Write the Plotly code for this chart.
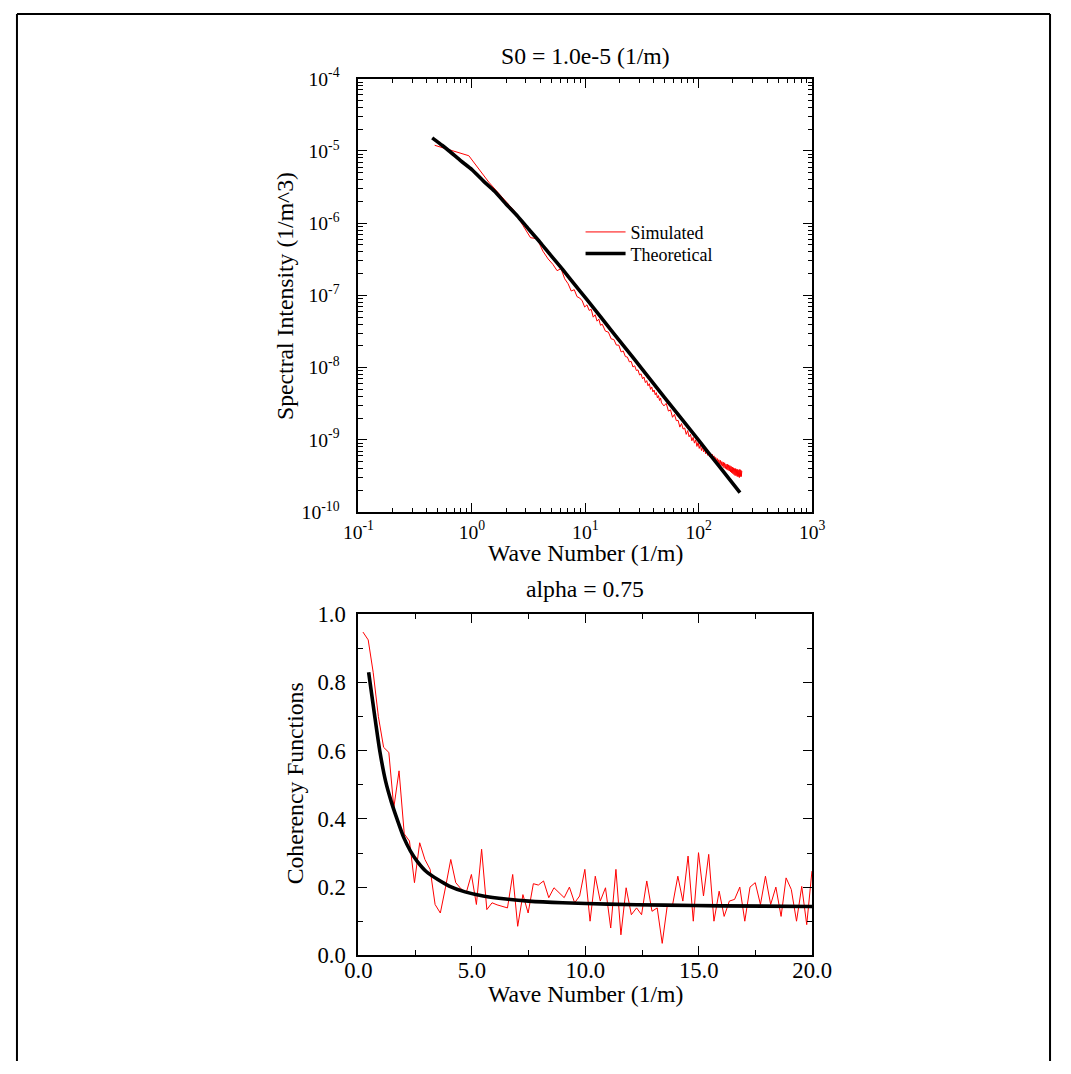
import plotly.graph_objects as go

# ---------------- Spectral intensity (top panel) ----------------
theo_k = [0.447, 0.55, 0.631, 0.8, 1.0, 1.26, 1.585, 2.0, 2.51, 3.16, 3.98, 5.01, 6.31, 7.94,
          10.3, 17.7, 26.5, 50, 100, 150, 231]
theo_s = [1.52e-5, 1.19e-5, 1.0e-5, 7.3e-6, 5.52e-6, 3.86e-6, 2.77e-6, 1.85e-6, 1.27e-6,
          8.3e-7, 5.48e-7, 3.53e-7, 2.29e-7, 1.46e-7, 8.8e-8, 3.01e-8, 1.36e-8, 3.85e-9,
          9.8e-10, 4.38e-10, 1.86e-10]

sim_k = [
    0.47, 0.94, 1.41, 1.88, 2.35, 2.82, 3.29, 3.76, 4.23, 4.70,
    5.17, 5.64, 6.11, 6.58, 7.05, 7.52, 7.99, 8.46, 8.93, 9.40,
    9.87, 10.34, 10.81, 11.28, 11.75, 12.22, 12.69, 13.16, 13.63, 14.10,
    15.04, 15.98, 16.92, 17.86, 18.80, 19.74, 20.68, 21.62, 22.56, 23.50,
    24.44, 25.38, 26.32, 27.26, 28.20, 29.14, 30.08, 31.02, 31.96, 32.90,
    33.84, 34.78, 35.72, 36.66, 37.60, 38.54, 39.48, 40.42, 41.36, 42.30,
    43.24, 44.18, 45.12, 46.06, 47.00,
    49.35, 51.70, 54.05, 56.40, 58.75, 61.10, 63.45, 65.80, 68.15, 70.50,
    72.85, 75.20, 77.55, 79.90, 82.25, 84.60, 86.95, 89.30, 91.65, 94.00,
    96.35, 98.70, 101.05, 103.40, 105.75, 108.10, 110.45, 112.80, 115.15, 117.50,
    119.85, 122.20, 124.55, 126.90, 129.25, 131.60, 133.95, 136.30, 138.65, 141.00,
    143.35, 145.70, 148.05, 150.40, 152.75, 155.10, 157.45, 159.80, 162.15, 164.50,
    166.85, 169.20, 171.55, 173.90, 176.25, 178.60, 180.95, 183.30, 185.65, 188.00,
    190.35, 192.70, 195.05, 197.40, 199.75, 202.10, 204.45, 206.80, 209.15, 211.50,
    213.85, 216.20, 218.55, 220.90, 223.25, 225.60, 227.95, 230.30, 232.65, 235.00,
    237.35, 239.70,
]
sim_s = [
    1.2e-5, 8.6e-6, 3.7e-6, 2.2e-6, 1.5e-6, 9.3e-7, 6.3e-7, 6.1e-7, 4.1e-7, 3.2e-7,
    2.7e-7, 2.2e-7, 2.35e-7, 1.7e-7, 1.45e-7, 1.15e-7, 1.2e-7, 9.6e-8, 9.2e-8, 8.4e-8,
    6.9e-8, 7.4e-8, 6.2e-8, 6.4e-8, 5.0e-8, 5.4e-8, 4.4e-8, 4.7e-8, 3.85e-8, 4.0e-8,
    3.2e-8, 3.1e-8, 2.5e-8, 2.45e-8, 2.05e-8, 2.05e-8, 1.65e-8, 1.7e-8, 1.42e-8, 1.4e-8,
    1.2e-8, 1.22e-8, 1.02e-8, 1.06e-8, 9.1e-9, 9.3e-9, 7.9e-9, 8.2e-9, 7.0e-9, 7.4e-9,
    6.2e-9, 6.6e-9, 5.6e-9, 6.0e-9, 5.0e-9, 5.4e-9, 4.6e-9, 4.9e-9, 4.2e-9, 4.5e-9,
    3.8e-9, 4.1e-9, 3.5e-9, 3.8e-9, 3.25e-9,
    2.95e-9, 3.2e-9, 2.5e-9, 2.6e-9, 2.05e-9, 2.25e-9, 1.84e-9, 1.86e-9, 1.5e-9, 1.68e-9,
    1.41e-9, 1.46e-9, 1.19e-9, 1.34e-9, 1.1e-9, 1.19e-9, 9.7e-10, 1.08e-9, 9.0e-10, 1.0e-9,
    8.1e-10, 9.2e-10, 7.6e-10, 8.5e-10, 7.1e-10, 8.0e-10, 6.8e-10, 7.5e-10, 6.4e-10, 7.1e-10,
    6.1e-10, 6.8e-10, 5.8e-10, 6.5e-10, 5.6e-10, 6.3e-10, 5.4e-10, 6.0e-10, 5.1e-10, 5.7e-10,
    5.0e-10, 5.5e-10, 4.8e-10, 5.3e-10, 4.6e-10, 5.2e-10, 4.4e-10, 5.0e-10, 4.3e-10, 4.9e-10,
    4.1e-10, 4.8e-10, 4.0e-10, 4.6e-10, 3.9e-10, 4.6e-10, 3.8e-10, 4.5e-10, 3.7e-10, 4.4e-10,
    3.6e-10, 4.3e-10, 3.5e-10, 4.2e-10, 3.4e-10, 4.1e-10, 3.3e-10, 4.0e-10, 3.2e-10, 4.0e-10,
    3.2e-10, 3.9e-10, 3.1e-10, 3.9e-10, 3.1e-10, 3.8e-10, 3.0e-10, 3.9e-10, 3.1e-10, 3.8e-10,
    3.1e-10, 3.7e-10,
]

log_x_ticks = [0.1, 1, 10, 100, 1000]
log_x_text = ["10<sup>-1</sup>", "10<sup>0</sup>", "10<sup>1</sup>", "10<sup>2</sup>", "10<sup>3</sup>"]
log_y_ticks = [1e-10, 1e-9, 1e-8, 1e-7, 1e-6, 1e-5, 1e-4]
log_y_text = ["10<sup>-10</sup>", "10<sup>-9</sup>", "10<sup>-8</sup>", "10<sup>-7</sup>",
              "10<sup>-6</sup>", "10<sup>-5</sup>", "10<sup>-4</sup>"]

# ---------------- Coherency (bottom panel) ----------------
coh_theo_k = [0.45, 0.7, 0.94, 1.2, 1.45, 1.7, 2.0, 2.3, 2.6, 3.0, 3.5, 4.0, 4.7,
              5.5, 6.5, 7.5, 9.0, 11, 13.5, 16, 20]
coh_theo_c = [0.83, 0.71, 0.60, 0.51, 0.45, 0.40, 0.345, 0.305, 0.275, 0.245, 0.222,
              0.203, 0.186, 0.174, 0.165, 0.159, 0.154, 0.150, 0.147, 0.145, 0.143]

coh_sim_k = [
    0.20, 0.43, 0.65, 0.88, 1.11, 1.34, 1.56, 1.79, 2.02, 2.25,
    2.47, 2.70, 2.93, 3.16, 3.38, 3.61, 3.84, 4.07, 4.29, 4.52,
    4.75, 4.98, 5.20, 5.43, 5.66, 5.89, 6.11, 6.34, 6.57, 6.80,
    7.02, 7.25, 7.48, 7.71, 7.93, 8.16, 8.39, 8.62, 8.84, 9.07,
    9.30, 9.53, 9.75, 9.98, 10.21, 10.44, 10.66, 10.89, 11.12, 11.35,
    11.57, 11.80, 12.03, 12.26, 12.48, 12.71, 12.94, 13.17, 13.39, 13.62,
    13.85, 14.08, 14.30, 14.53, 14.76, 14.99, 15.21, 15.44, 15.67, 15.90,
    16.12, 16.35, 16.58, 16.81, 17.03, 17.26, 17.49, 17.72, 17.94, 18.17,
    18.40, 18.63, 18.85, 19.08, 19.31, 19.54, 19.76, 19.99,
]
coh_sim_c = [
    0.948, 0.925, 0.83, 0.70, 0.61, 0.595, 0.433, 0.541, 0.356, 0.335,
    0.213, 0.33, 0.281, 0.252, 0.149, 0.124, 0.20, 0.281, 0.213, 0.195,
    0.183, 0.237, 0.149, 0.311, 0.134, 0.154, 0.148, 0.143, 0.139, 0.237,
    0.085, 0.178, 0.124, 0.21, 0.206, 0.218, 0.169, 0.198, 0.185, 0.169,
    0.20, 0.154, 0.174, 0.252, 0.10, 0.232, 0.159, 0.198, 0.08, 0.252,
    0.06, 0.198, 0.119, 0.139, 0.119, 0.218, 0.129, 0.139, 0.035, 0.149,
    0.149, 0.232, 0.159, 0.291, 0.10, 0.301, 0.174, 0.296, 0.10, 0.188,
    0.114, 0.159, 0.164, 0.20, 0.10, 0.20, 0.213, 0.149, 0.232, 0.149,
    0.20, 0.114, 0.227, 0.193, 0.10, 0.202, 0.09, 0.247,
]

lin_x_ticks = [0, 5, 10, 15, 20]
lin_x_text = ["0.0", "5.0", "10.0", "15.0", "20.0"]
lin_y_ticks = [0, 0.2, 0.4, 0.6, 0.8, 1.0]
lin_y_text = ["0.0", "0.2", "0.4", "0.6", "0.8", "1.0"]

W, H = 1071, 1074
# The page is shown with its body margin and fitted to the window, so a figure
# pixel lands at  screen = scale * px + offset  on each axis.
SX, OX = 0.968, 15.0
SY, OY = 0.973, 14.4
SERIF = "Liberation Serif"
RED = "#ff0000"


def rx(x):
    """Screen x (px) -> paper fraction."""
    return ((x - OX) / SX) / W


def ry(y):
    """Screen y (px, from top) -> paper fraction."""
    return 1 - ((y - OY) / SY) / H


def fs(size):
    return round(size / ((SX + SY) / 2), 1)


fig = go.Figure()

fig.add_trace(go.Scatter(x=sim_k, y=sim_s, mode="lines", name="Simulated", legend="legend",
                         line=dict(color=RED, width=1), xaxis="x", yaxis="y"))
fig.add_trace(go.Scatter(x=theo_k, y=theo_s, mode="lines", name="Theoretical", legend="legend2",
                         line=dict(color="black", width=3.6, shape="spline", smoothing=0.6),
                         xaxis="x", yaxis="y"))
fig.add_trace(go.Scatter(x=coh_sim_k, y=coh_sim_c, mode="lines", showlegend=False,
                         line=dict(color=RED, width=1), xaxis="x2", yaxis="y2"))
fig.add_trace(go.Scatter(x=coh_theo_k, y=coh_theo_c, mode="lines", showlegend=False,
                         line=dict(color="black", width=3.6, shape="spline", smoothing=0.6),
                         xaxis="x2", yaxis="y2"))

x_dom = [rx(358), rx(812.5)]
axis_common = dict(
    showline=True, linecolor="black", linewidth=2, mirror="allticks",
    ticks="inside", ticklen=9, tickwidth=1.4, tickcolor="black",
    showgrid=False, zeroline=False,
)
minor_log = dict(ticks="inside", ticklen=4.5, tickwidth=1.1, tickcolor="black",
                 dtick="D1", showgrid=False)
log_font = dict(family=SERIF, size=fs(19), color="black")
lin_font = dict(family=SERIF, size=fs(22), color="black")
legend_common = dict(xanchor="left", yanchor="middle", bgcolor="rgba(0,0,0,0)", borderwidth=0,
                     font=dict(family=SERIF, size=fs(17.5), color="black"), itemwidth=40)

fig.update_layout(
    width=W, height=H,
    margin=dict(l=0, r=0, t=0, b=0),
    paper_bgcolor="white", plot_bgcolor="white",
    font=dict(family=SERIF, color="black"),
    xaxis=dict(axis_common, type="log", domain=x_dom, range=[-1, 3], anchor="y",
               tickmode="array", tickvals=log_x_ticks, ticktext=log_x_text,
               tickfont=log_font, minor=minor_log, ticklabelstandoff=1),
    yaxis=dict(axis_common, type="log", domain=[ry(512), ry(80)], range=[-10, -4],
               anchor="x", tickmode="array", tickvals=log_y_ticks, ticktext=log_y_text,
               tickfont=log_font, minor=minor_log, ticklabelstandoff=13),
    xaxis2=dict(axis_common, domain=x_dom, range=[0, 20], anchor="y2",
                tickmode="array", tickvals=lin_x_ticks, ticktext=lin_x_text, tickfont=lin_font,
                minor=dict(ticks="inside", ticklen=5, tickwidth=1.1, tickcolor="black",
                           tickmode="array", tickvals=[2.5, 7.5, 12.5, 17.5], showgrid=False),
                ticklabelstandoff=-7),
    yaxis2=dict(axis_common, domain=[ry(954), ry(614)], range=[0, 1], anchor="x2",
                tickmode="array", tickvals=lin_y_ticks, ticktext=lin_y_text, tickfont=lin_font,
                minor=dict(ticks="inside", ticklen=5, tickwidth=1.1, tickcolor="black",
                           tickmode="array", tickvals=[0.1, 0.3, 0.5, 0.7, 0.9], showgrid=False),
                ticklabelstandoff=6),
    legend=dict(legend_common, x=rx(580.5), y=ry(233)),
    legend2=dict(legend_common, x=rx(580.5), y=ry(254.5)),
    showlegend=True,
)

annotations = [
    dict(text="S0 = 1.0e-5 (1/m)", x=585, y=57, angle=0),
    dict(text="Wave Number (1/m)", x=585, y=553, angle=0),
    dict(text="Spectral Intensity (1/m^3)", x=285, y=297, angle=-90),
    dict(text="alpha = 0.75", x=585, y=588.5, angle=0),
    dict(text="Coherency Functions", x=294, y=783, angle=-90),
    dict(text="Wave Number (1/m)", x=585, y=993, angle=0),
]
for a in annotations:
    fig.add_annotation(text=a["text"], x=rx(a["x"]), y=ry(a["y"]), xref="paper", yref="paper",
                       xanchor="center", yanchor="middle", showarrow=False,
                       textangle=a["angle"],
                       font=dict(family=SERIF, size=fs(23), color="black"))

# page frame: top, left and right edges, as close to the page edge as the figure allows
frame = dict(color="black", width=2)
top, left, right = 1 - 1.0 / H, 1.0 / W, 1070.0 / W
fig.add_shape(type="line", xref="paper", yref="paper", x0=left, x1=right, y0=top, y1=top, line=frame)
fig.add_shape(type="line", xref="paper", yref="paper", x0=left, x1=left, y0=top, y1=0, line=frame)
fig.add_shape(type="line", xref="paper", yref="paper", x0=right, x1=right, y0=top, y1=0, line=frame)

fig.write_html("out.html")
